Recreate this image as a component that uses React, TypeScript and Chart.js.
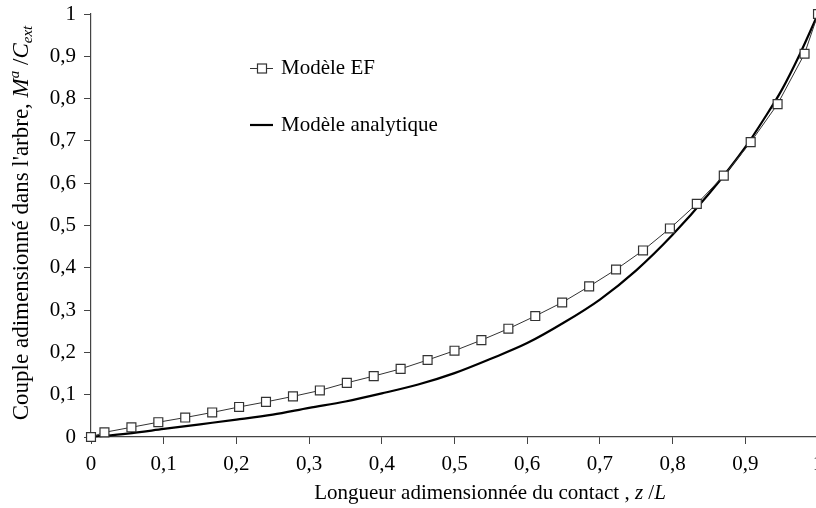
import React, { useEffect, useRef } from "react";
import { Chart, registerables } from "chart.js";

Chart.register(...registerables);

const FAMILY = "'Liberation Serif', 'Times New Roman', serif";

// Modèle EF (finite elements) points
const efX = [0, 0.0185, 0.0556, 0.0926, 0.1296, 0.1667, 0.2037, 0.2407, 0.2778, 0.3148, 0.3519, 0.3889, 0.4259, 0.463, 0.5, 0.537, 0.5741, 0.6111, 0.6481, 0.6852, 0.7222, 0.7593, 0.7963, 0.8333, 0.8704, 0.9074, 0.9444, 0.9815, 1.0];
const efY = [0, 0.011, 0.023, 0.035, 0.046, 0.058, 0.071, 0.083, 0.096, 0.11, 0.128, 0.144, 0.161, 0.182, 0.204, 0.229, 0.256, 0.286, 0.318, 0.356, 0.396, 0.441, 0.493, 0.551, 0.618, 0.697, 0.787, 0.906, 1.0];

// Modèle analytique
const anX = [0, 0.05, 0.1, 0.15, 0.2, 0.25, 0.3, 0.35, 0.4, 0.45, 0.5, 0.55, 0.6, 0.65, 0.7, 0.75, 0.8, 0.85, 0.9, 0.925, 0.95, 0.975, 1.0];
const anY = [0, 0.008, 0.019, 0.03, 0.041, 0.053, 0.069, 0.084, 0.103, 0.124, 0.151, 0.185, 0.222, 0.27, 0.325, 0.394, 0.478, 0.575, 0.685, 0.75, 0.82, 0.905, 1.0];

const seriesNames = ["Modèle EF", "Modèle analytique"];
const xTitleParts = ["Longueur adimensionnée du contact , ", "z", " /", "L"];
const yTitleParts = ["Couple adimensionné dans l'arbre, ", "M", "a", " /", "C", "ext"];

const fmt = (v: number) => {
  const r = Math.round(v * 10) / 10;
  return String(r).replace(".", ",");
};

type Seg = { t: string; italic?: boolean; scale?: number; shift?: number };

function drawRich(ctx: CanvasRenderingContext2D, segs: Seg[], size: number, cx: number, cy: number, rot: number) {
  ctx.save();
  ctx.translate(cx, cy);
  ctx.rotate(rot);
  ctx.textBaseline = "middle";
  ctx.textAlign = "left";
  ctx.fillStyle = "#000";
  const fontOf = (s: Seg) => `${s.italic ? "italic " : ""}${Math.round(size * (s.scale || 1))}px ${FAMILY}`;
  let total = 0;
  const widths = segs.map((s) => {
    ctx.font = fontOf(s);
    const w = ctx.measureText(s.t).width;
    total += w;
    return w;
  });
  let x = -total / 2;
  segs.forEach((s, i) => {
    ctx.font = fontOf(s);
    ctx.fillText(s.t, x, (s.shift || 0) * size);
    x += widths[i];
  });
  ctx.restore();
}

const annotPlugin = {
  id: "annot",
  afterDraw(chart: any) {
    const ctx: CanvasRenderingContext2D = chart.ctx;
    const size = 21;
    // x title
    drawRich(
      ctx,
      [
        { t: xTitleParts[0] },
        { t: xTitleParts[1], italic: true },
        { t: xTitleParts[2] },
        { t: xTitleParts[3], italic: true },
      ],
      size,
      490,
      493,
      0
    );
    // y title
    drawRich(
      ctx,
      [
        { t: yTitleParts[0] },
        { t: yTitleParts[1], italic: true },
        { t: yTitleParts[2], italic: true, scale: 0.65, shift: -0.3 },
        { t: yTitleParts[3] },
        { t: yTitleParts[4], italic: true },
        { t: yTitleParts[5], italic: true, scale: 0.65, shift: 0.25 },
      ],
      22.5,
      22,
      223,
      -Math.PI / 2
    );
    // legend
    ctx.save();
    ctx.strokeStyle = "#333";
    ctx.lineWidth = 1;
    ctx.beginPath();
    ctx.moveTo(250, 68.5);
    ctx.lineTo(273, 68.5);
    ctx.stroke();
    ctx.fillStyle = "#fff";
    ctx.fillRect(257.5, 64, 9, 9);
    ctx.strokeStyle = "#333";
    ctx.lineWidth = 1.2;
    ctx.strokeRect(257.5, 64, 9, 9);
    ctx.strokeStyle = "#000";
    ctx.lineWidth = 2.2;
    ctx.beginPath();
    ctx.moveTo(250, 125);
    ctx.lineTo(273, 125);
    ctx.stroke();
    ctx.fillStyle = "#000";
    ctx.font = `${size}px ${FAMILY}`;
    ctx.textBaseline = "middle";
    ctx.textAlign = "left";
    ctx.fillText(seriesNames[0], 281, 68);
    ctx.fillText(seriesNames[1], 281, 125);
    ctx.restore();
  },
};

export default function App() {
  const ref = useRef<HTMLCanvasElement>(null);
  useEffect(() => {
    if (!ref.current) return;
    const chart = new Chart(ref.current, {
      type: "line",
      data: {
        datasets: [
          {
            label: seriesNames[0],
            data: efX.map((x, i) => ({ x, y: efY[i] })),
            borderColor: "#333",
            borderWidth: 1,
            pointStyle: "rect",
            pointRadius: 6.3,
            pointBackgroundColor: "#fff",
            pointBorderColor: "#333",
            pointBorderWidth: 1.2,
            tension: 0,
            clip: 8,
            order: 0,
          },
          {
            label: seriesNames[1],
            data: anX.map((x, i) => ({ x, y: anY[i] })),
            borderColor: "#000",
            borderWidth: 2.2,
            pointRadius: 0,
            cubicInterpolationMode: "monotone",
            clip: 4,
            order: 1,
          },
        ],
      },
      options: {
        responsive: false,
        animation: false,
        events: [],
        layout: { padding: { left: 0, top: 14, right: 12, bottom: 0 } },
        plugins: { legend: { display: false }, tooltip: { enabled: false }, title: { display: false } },
        scales: {
          x: {
            type: "linear",
            min: 0,
            max: 1,
            afterFit: (s: any) => {
              s.height = 71;
              s.paddingLeft = 0;
              s.paddingRight = 0;
            },
            grid: { display: true, drawOnChartArea: false, drawTicks: true, tickLength: 7, color: "#444", lineWidth: 1 },
            border: { display: true, color: "#444", width: 1.2 },
            ticks: {
              stepSize: 0.1,
              padding: 8,
              maxRotation: 0,
              autoSkip: false,
              color: "#000",
              font: { family: FAMILY, size: 21 },
              callback: (v: any) => fmt(Number(v)),
            },
          },
          y: {
            type: "linear",
            min: 0,
            max: 1,
            afterFit: (s: any) => {
              s.width = 91;
              s.paddingTop = 0;
              s.paddingBottom = 0;
            },
            grid: { display: true, drawOnChartArea: false, drawTicks: true, tickLength: 7, color: "#444", lineWidth: 1 },
            border: { display: true, color: "#444", width: 1.2 },
            ticks: {
              stepSize: 0.1,
              padding: 8,
              autoSkip: false,
              color: "#000",
              font: { family: FAMILY, size: 21 },
              callback: (v: any) => fmt(Number(v)),
            },
          },
        },
      },
      plugins: [annotPlugin],
    } as any);
    return () => chart.destroy();
  }, []);
  return (
    <div style={{ position: "fixed", left: 0, top: 0, width: 816, height: 508, overflow: "hidden", background: "#fff" }}>
      <canvas ref={ref} width={830} height={508} style={{ display: "block" }} />
    </div>
  );
}
